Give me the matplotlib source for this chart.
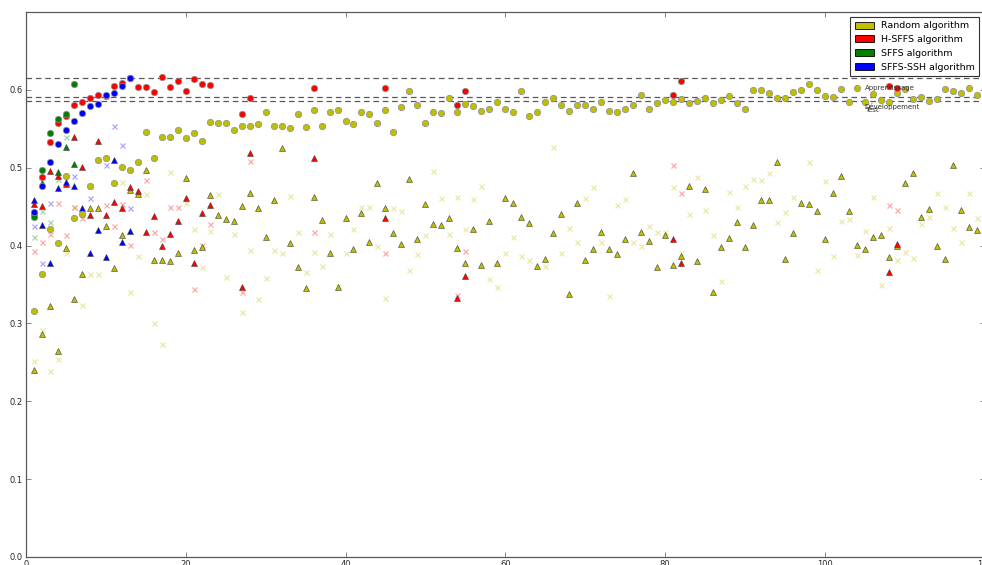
import numpy as np
import matplotlib
matplotlib.use("Agg")
import matplotlib.pyplot as plt
from matplotlib.patches import Patch

nan = np.nan

# ---- Random algorithm: one run per feature count -----------------------------
random_x = list(range(1, 120))
random_train = [
    0.316, 0.363, 0.421, 0.403, 0.489, 0.436, 0.441, 0.477, 0.510, 0.513,
    0.480, 0.501, 0.497, 0.507, 0.546, 0.512, 0.540, 0.539, 0.548, 0.538,
    0.545, 0.534, 0.559, 0.558, 0.557, 0.548, 0.553, 0.553, 0.556, 0.572,
    0.554, 0.554, 0.551, 0.569, 0.552, 0.574, 0.554, 0.572, 0.574, 0.560,
    0.556, 0.571, 0.569, 0.558, 0.574, 0.546, 0.578, 0.598, 0.581, 0.558,
    0.572, 0.570, 0.590, 0.572, 0.582, 0.579, 0.573, 0.575, 0.584, 0.575,
    0.571, 0.599, 0.566, 0.571, 0.584, 0.589, 0.580, 0.573, 0.580, 0.581,
    0.575, 0.584, 0.573, 0.572, 0.575, 0.580, 0.594, 0.576, 0.583, 0.587,
    0.584, 0.588, 0.583, 0.586, 0.589, 0.583, 0.587, 0.592, 0.583, 0.575,
    0.600, 0.600, 0.596, 0.590, 0.589, 0.597, 0.600, 0.608, 0.600, 0.592,
    0.591, 0.601, 0.584, 0.603, 0.584, 0.595, 0.587, 0.585, 0.596, 0.601,
    0.588, 0.591, 0.586, 0.588, 0.601, 0.599, 0.596, 0.602, 0.593,
]
random_dev = [
    0.240, 0.286, 0.323, 0.265, 0.397, 0.331, 0.363, 0.448, 0.448, 0.425,
    0.371, 0.414, 0.472, 0.466, 0.497, 0.382, 0.382, 0.380, 0.390, 0.487,
    0.394, 0.398, 0.465, 0.439, 0.434, 0.431, 0.451, 0.468, 0.448, 0.411,
    0.458, 0.525, 0.403, 0.373, 0.346, 0.462, 0.433, 0.391, 0.347, 0.435,
    0.396, 0.442, 0.405, 0.481, 0.448, 0.416, 0.402, 0.485, 0.408, 0.453,
    0.428, 0.426, 0.435, 0.397, 0.378, 0.421, 0.375, 0.431, 0.378, 0.461,
    0.455, 0.437, 0.429, 0.374, 0.383, 0.416, 0.441, 0.338, 0.455, 0.382,
    0.396, 0.417, 0.395, 0.389, 0.408, 0.493, 0.418, 0.406, 0.372, 0.414,
    0.375, 0.387, 0.477, 0.380, 0.473, 0.340, 0.398, 0.410, 0.430, 0.398,
    0.427, 0.458, 0.458, 0.507, 0.383, 0.416, 0.455, 0.453, 0.445, 0.408,
    0.467, 0.490, 0.444, 0.401, 0.396, 0.411, 0.414, 0.385, 0.400, 0.480,
    0.493, 0.437, 0.447, 0.399, 0.383, 0.503, 0.446, 0.424, 0.420,
]
random_test = [
    0.252, 0.291, 0.239, 0.254, 0.391, 0.450, 0.324, 0.363, 0.363, nan,
    nan, 0.482, 0.341, 0.386, 0.466, 0.300, 0.274, 0.495, nan, 0.455,
    0.421, 0.373, 0.419, 0.466, 0.359, 0.415, 0.315, 0.394, 0.332, 0.358,
    0.394, 0.390, 0.464, 0.417, 0.366, 0.392, 0.374, 0.415, 0.348, 0.390,
    0.421, 0.449, 0.449, 0.399, 0.333, 0.448, 0.445, 0.369, 0.389, 0.414,
    0.496, 0.461, 0.415, 0.462, 0.421, 0.460, 0.476, 0.357, 0.347, 0.391,
    0.411, 0.387, 0.381, nan, 0.374, 0.526, 0.390, 0.423, 0.404, 0.461,
    0.475, 0.404, 0.335, 0.452, 0.460, 0.405, 0.399, 0.425, 0.418, 0.418,
    0.475, 0.390, 0.440, 0.488, 0.446, 0.414, 0.354, 0.469, 0.450, 0.476,
    0.485, 0.484, 0.493, 0.430, 0.443, 0.462, nan, 0.507, 0.368, 0.483,
    0.387, 0.431, 0.434, 0.388, 0.419, 0.463, 0.350, 0.423, 0.381, 0.392,
    0.384, 0.428, 0.437, 0.468, 0.450, 0.422, 0.405, 0.468, 0.436,
]

# ---- H-SFFS algorithm ---------------------------------------------------------
hsffs_x = list(range(1, 24)) + [27, 28, 36, 45, 54, 55, 81, 82, 108, 109]
hsffs_train = [
    0.440, 0.488, 0.533, 0.558, 0.566, 0.580, 0.584, 0.590, 0.593, 0.592,
    0.605, 0.609, 0.615, 0.604, 0.604, 0.597, 0.617, 0.604, 0.612, 0.599,
    0.614, 0.608, 0.606,
    0.569, 0.590, 0.603, 0.603, 0.580, 0.598, 0.594, 0.612, 0.605, 0.602,
]
hsffs_dev = [
    0.454, 0.451, 0.496, 0.490, 0.479, 0.539, 0.501, 0.439, 0.534, 0.439,
    0.456, 0.448, 0.475, 0.470, 0.417, 0.438, 0.399, 0.415, 0.432, 0.461,
    0.377, 0.442, 0.452,
    0.347, 0.519, 0.513, 0.436, 0.333, 0.361, 0.409, 0.378, 0.366, 0.402,
]
hsffs_test = [
    0.393, 0.405, 0.415, 0.455, 0.414, 0.449, 0.435, 0.476, nan, 0.452,
    0.425, 0.454, 0.401, nan, 0.484, 0.418, 0.408, 0.449, 0.450, nan,
    0.344, 0.401, 0.428,
    0.341, 0.508, 0.417, 0.390, 0.336, 0.393, 0.504, 0.467, 0.452, 0.446,
]

# ---- SFFS algorithm -----------------------------------------------------------
sffs_x = [1, 2, 3, 4, 5, 6]
sffs_train = [0.437, 0.497, 0.545, 0.563, 0.569, 0.608]
sffs_dev = [nan, 0.480, nan, 0.495, 0.526, 0.505]
sffs_test = [0.411, 0.445, 0.430, 0.485, 0.540, nan]

# ---- SFFS-SSH algorithm -------------------------------------------------------
ssh_x = list(range(1, 14))
ssh_train = [0.443, 0.476, 0.507, 0.530, 0.548, 0.560, 0.570, 0.579, 0.582,
             0.593, 0.596, 0.605, 0.615]
ssh_dev = [0.458, 0.426, 0.378, 0.474, 0.482, 0.477, 0.448, 0.390, 0.420,
           0.385, 0.510, 0.405, 0.419]
ssh_test = [0.425, 0.378, 0.455, nan, nan, 0.489, nan, 0.461, nan,
            0.503, 0.553, 0.529, 0.448]

# Best H-SFFS scores, drawn as reference lines
best_scores = [0.615, 0.5907, 0.5856]
best_labels = ["Apprentissage", "Développement", "Test"]

algorithms = [
    ("Random algorithm", (0.75, 0.75, 0.0), random_x, random_train, random_dev, random_test),
    ("H-SFFS algorithm", (1.0, 0.0, 0.0), hsffs_x, hsffs_train, hsffs_dev, hsffs_test),
    ("SFFS algorithm", (0.0, 0.5, 0.0), sffs_x, sffs_train, sffs_dev, sffs_test),
    ("SFFS-SSH algorithm", (0.0, 0.0, 1.0), ssh_x, ssh_train, ssh_dev, ssh_test),
]

fig = plt.figure(figsize=(9.82, 5.65), dpi=100)
W, H = 982.0, 565.0
ax = fig.add_axes([26 / W, 8 / H, (984.5 - 26) / W, (557 - 12) / H])

for name, color, xs, tr, dv, ts in algorithms:
    ax.plot(xs, ts, linestyle="none", marker="x", markersize=3.6,
            markeredgewidth=0.9, color=color, alpha=0.35, zorder=2)
    ax.plot(xs, dv, linestyle="none", marker="^", markersize=4.2,
            markerfacecolor=color, markeredgecolor="0.25",
            markeredgewidth=0.4, zorder=3)
    ax.plot(xs, tr, linestyle="none", marker="o", markersize=4.6,
            markerfacecolor=color, markeredgecolor="0.55",
            markeredgewidth=0.5, zorder=4)

for val in best_scores:
    ax.axhline(val, color="0.35", linestyle=(0, (4.5, 3)), linewidth=0.9, zorder=1)

ax.text(105, 0.6003, best_labels[0], fontsize=5, color="0.2", va="baseline", zorder=6)
ax.text(105, 0.5755, best_labels[1], fontsize=5, color="0.2", va="baseline", zorder=6)
ax.text(105, 0.5712, best_labels[2], fontsize=5, color="0.2", va="baseline", zorder=6)

ax.set_xlim(0, 120)
ax.set_ylim(0, 0.7)
ax.set_xticks([0, 20, 40, 60, 80, 100, 120])
ax.set_yticks([0.0, 0.1, 0.2, 0.3, 0.4, 0.5, 0.6])
ax.set_yticklabels(["0.0", "0.1", "0.2", "0.3", "0.4", "0.5", "0.6"])
ax.tick_params(direction="in", length=3.5, width=0.6, color="0.45",
               labelsize=6, labelcolor="0.15", top=True, right=True, pad=2.5)
for sp in ax.spines.values():
    sp.set_color("0.35")
    sp.set_linewidth(0.9)

handles = [Patch(facecolor=c, edgecolor="black", linewidth=0.6, label=n)
           for n, c, *_ in algorithms]
leg = ax.legend(handles=handles, loc="upper right", fontsize=6.8,
                fancybox=False, framealpha=1.0, edgecolor="0.2",
                borderaxespad=0.55, handlelength=2.0, handleheight=0.75,
                labelspacing=0.5, borderpad=0.45)
leg.get_frame().set_linewidth(0.8)
leg.set_zorder(10)

fig.savefig("out.png", dpi=100)
